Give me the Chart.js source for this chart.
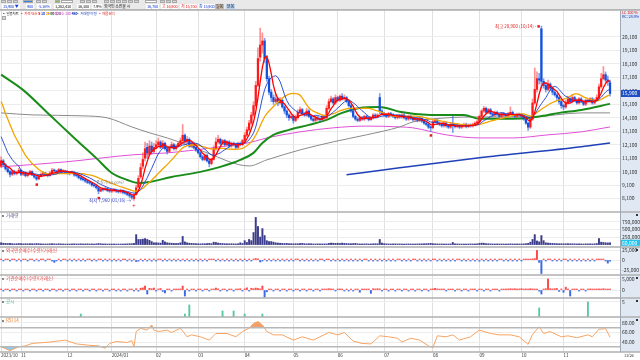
<!DOCTYPE html>
<html lang="ko">
<head>
<meta charset="utf-8">
<script src="https://cdn.jsdelivr.net/npm/chart.js@4.4.1/dist/chart.umd.min.js"></script>
<style>
  html, body { margin: 0; padding: 0; background: #fff; }
  #wrap { position: relative; width: 640px; height: 360px; overflow: hidden;
          font-family: "Noto Sans CJK KR", "Noto Sans", sans-serif; }
  #stockChart { position: absolute; left: 0; top: 0; }
  #toolbar { position: absolute; left: 0; top: 0; width: 640px; height: 10px; background: #e9e9e9;
             border-bottom: 1px solid #b4b4b4; box-sizing: border-box; }
  #toolbar span, #legend span, .tag { position: absolute; white-space: nowrap; font-size: 4px; line-height: 5px; letter-spacing: -0.2px; }
  #legend span { font-size: 3.6px; letter-spacing: -0.2px; }
  .ico { position: absolute; top: 0; width: 5px; height: 3px; background: #d6d6d6; border: 1px solid #a8a8a8; box-sizing: border-box; }
  .fld { background: #fff; padding: 0 1px; }
  #legend span { top: 11px; }
</style>
</head>
<body>
<div id="wrap">
  <canvas id="stockChart" width="640" height="360"></canvas>
  <div id="toolbar">
    <i class="ico" style="left:1px"></i><i class="ico" style="left:7px"></i><i class="ico" style="left:13px"></i>
    <i class="ico" style="left:23px;width:10px;background:#3d7fe0"></i><i class="ico" style="left:36px"></i>
    <i class="ico" style="left:42px"></i><i class="ico" style="left:55px;background:#8bc34a"></i>
    <i class="ico" style="left:61px;width:12px;background:#fff"></i><i class="ico" style="left:80px"></i>
    <i class="ico" style="left:86px"></i><i class="ico" style="left:92px"></i><i class="ico" style="left:104px"></i>
    <i class="ico" style="left:110px"></i><i class="ico" style="left:116px"></i><i class="ico" style="left:122px"></i>
    <i class="ico" style="left:128px"></i><i class="ico" style="left:134px"></i><i class="ico" style="left:145px;width:12px;background:#fff"></i>
    <i class="ico" style="left:160px"></i><i class="ico" style="left:166px"></i><i class="ico" style="left:172px"></i>
    <span class="fld" style="left:2px;top:4px;color:#1a3fd0">15,900 ▼</span>
    <span class="fld" style="left:26px;top:4px;color:#1a3fd0">900</span>
    <span class="fld" style="left:37px;top:4px;color:#1a3fd0">-5.36%</span>
    <span class="fld" style="left:54px;top:4px;color:#222">1,262,430</span>
    <span class="fld" style="left:77px;top:4px;color:#222">36,300</span>
    <span class="fld" style="left:92px;top:4px;color:#222">7.9%</span>
    <span style="left:104px;top:4px;color:#222">외국인 소진율 시</span>
    <span class="fld" style="left:146px;top:4px;color:#1a3fd0">16,700</span>
    <span class="fld" style="left:161px;top:4px;color:#e02020">고 16,900</span>
    <span class="fld" style="left:180px;top:4px;color:#e02020">저 15,700</span>
    <span class="fld" style="left:198px;top:4px;color:#1a3fd0">종 15,900</span>
    <span style="left:215px;top:4px;background:#c9b8a6;color:#222;padding:0 1px">일봉</span>
    <span style="left:226px;top:4px;background:#b7d0ee;color:#222;padding:0 1px">분봉</span>
  </div>
  <div id="legend">
    <span style="left:2px;color:#222">▪ 일봉차트</span>
    <span style="left:20px;color:#e02020">▪ 가격 단순 <b style="color:#f00">5</b> <b style="color:#1a3fd0">10</b> <b style="color:#e8a000">20</b> <b style="color:#1a8c1a">60</b> <b style="color:#888">120</b></span>
    <span style="left:47px;color:#d040c8">▪ 가격 단순 240 <b style="color:#2040b8">480</b></span>
    <span style="left:76px;color:#2040c0">▪ 거래량 이평</span>
    <span style="left:98px;color:#e03030">▪ 매물분석</span>
  </div>
  <i class="ico" style="left:2px;top:16px;width:4px;height:4px"></i>
  <span class="tag" style="left:622px;top:10px;color:#e02020">LC 100 %</span>
  <span class="tag" style="left:622px;top:14px;color:#2040c0">RC: 28.8%</span>
  <span class="tag" style="left:624px;top:353px;color:#333">11/26</span>
</div>
<script>
const FONT = '"Noto Sans CJK KR", "Noto Sans", sans-serif';

// x축: 월 라벨과 월별 거래일 수
const monthNames = ["2023/10", "11", "12", "2024/01", "02", "03", "04", "05", "06", "07", "08", "09", "10", "11"];
const monthDays = [9, 21, 20, 20, 19, 21, 22, 20, 21, 22, 21, 19, 19, 22];
const PAD_DAYS = 4;

// 일봉 시가/고가/저가/종가
const opens = [
  10500, 10900, 10600, 10300, 10100, 9900, 10100, 9950, 10050, 10200,
  9900, 10000, 9800, 9900, 10100, 9850, 9700, 9550, 9750, 9900,
  10000, 9850, 9800, 10000, 10200, 10150, 10050, 10250, 10100, 10150,
  10050, 10000, 9950, 10050, 9850, 9800, 9650, 9550, 9500, 9400,
  9300, 9250, 9100, 9050, 8900, 8650, 8800, 8750, 8850, 8700,
  8650, 8700, 8750, 8650, 8600, 8700, 8550, 8500, 8400, 8300,
  8100, 8400, 8950, 9700, 10500, 11100, 11900, 11400, 12000, 11600,
  11900, 12100, 12300, 11900, 12200, 11800, 11600, 11900, 12100, 11800,
  12000, 12200, 12400, 12800, 12300, 12500, 12000, 12200, 11900, 11700,
  11500, 11200, 11000, 11300, 10900, 10700, 11000, 11800, 12300, 12500,
  12200, 12400, 12100, 12300, 12000, 12200, 12100, 11900, 12200, 12100,
  12400, 12800, 13200, 13700, 14300, 15000, 16500, 18600, 19500, 19800,
  18500, 17000, 16000, 15600, 15300, 15500, 15200, 15400, 14900, 14600,
  14300, 14100, 14200, 13900, 14100, 14500, 14700, 14400, 14300, 14600,
  14200, 14000, 13900, 14100, 14000, 13950, 14200, 14100, 14800, 15300,
  15500, 15200, 15600, 15400, 15700, 15500, 15600, 15300, 15000, 14600,
  14200, 14000, 13900, 14100, 14000, 14200, 14100, 13950, 14100, 14300,
  14200, 15600, 14600, 14400, 14300, 14200, 14400, 14300, 14200, 14100,
  14250, 14150, 14300, 14100, 14000, 14200, 14050, 13950, 14000, 13900,
  14050, 13850, 13700, 13600, 13400, 13350, 13800, 13900, 13700, 13600,
  13500, 13700, 13500, 13400, 13600, 13500, 13450, 13550, 13400, 13500,
  13600, 13450, 13550, 13500, 13600, 13700, 13800, 14200, 14600, 14800,
  14500, 14700, 14400, 14300, 14500, 14350, 14200, 14400, 14300, 14250,
  14400, 14500, 14300, 14200, 14350, 14300, 14200, 14000, 13700, 13400,
  14000, 15200, 16200, 17000, 20700, 16800, 16500, 16200, 16600, 16300,
  16000, 15800, 15600, 15300, 15000, 14900, 15200, 15500, 15300, 15600,
  15400, 15200, 15500, 15300, 15100, 15400, 15300, 15500, 15200, 15400,
  15600, 16400, 17000, 17300, 16900, 16700
];
const highs = [
  11200, 11000, 10700, 10400, 10200, 10200, 10200, 10150, 10350, 10250,
  10100, 10100, 10000, 10200, 10150, 9900, 9750, 9850, 10000, 10100,
  10050, 9950, 10100, 10350, 10300, 10200, 10350, 10300, 10250, 10200,
  10150, 10100, 10150, 10100, 9950, 9850, 9700, 9650, 9600, 9500,
  9400, 9300, 9200, 9100, 8950, 8900, 8900, 8950, 8900, 8800,
  8800, 8850, 8800, 8750, 8800, 8750, 8650, 8550, 8450, 8350,
  8450, 9100, 9800, 10700, 11500, 12300, 12200, 12400, 12300, 12200,
  12400, 12600, 12400, 12400, 12300, 11900, 12000, 12300, 12200, 12100,
  12300, 12600, 13600, 12900, 12700, 12600, 12300, 12300, 12000, 11800,
  11600, 11300, 11400, 11400, 11000, 11100, 12000, 12600, 12800, 12600,
  12500, 12500, 12400, 12400, 12300, 12300, 12200, 12300, 12300, 12500,
  13000, 13400, 13900, 14500, 15300, 16800, 19300, 20750, 20400, 20000,
  18700, 17200, 16200, 15800, 15900, 15600, 15600, 15500, 15000, 14700,
  14400, 14400, 14300, 14300, 14700, 14900, 14800, 14500, 14800, 14700,
  14300, 14100, 14200, 14200, 14100, 14300, 14300, 15000, 15500, 15700,
  15600, 15800, 15700, 15800, 15900, 15800, 15700, 15400, 15100, 14700,
  14300, 14100, 14200, 14200, 14300, 14300, 14200, 14200, 14400, 14400,
  14400, 15900, 14700, 14500, 14400, 14500, 14500, 14400, 14300, 14350,
  14350, 14400, 14400, 14200, 14300, 14300, 14150, 14100, 14100, 14150,
  14100, 13900, 13800, 13700, 13500, 13900, 14000, 14000, 13800, 13700,
  13800, 13800, 13600, 13700, 14200, 13600, 13650, 13600, 13600, 13700,
  13700, 13650, 13650, 13700, 13800, 13900, 14300, 14700, 14950, 14900,
  14800, 14800, 14500, 14600, 14600, 14400, 14500, 14500, 14400, 14500,
  14900, 14600, 14400, 14450, 14450, 14400, 14300, 14100, 13800, 14200,
  15500, 17800, 17500, 17400, 20900, 17000, 16700, 16900, 16700, 16400,
  16100, 15900, 15700, 15400, 15100, 15400, 15700, 15600, 15800, 15700,
  15500, 15600, 15600, 15400, 15500, 15500, 15600, 15600, 15500, 15800,
  16600, 17400, 17900, 17500, 17200, 16900
];
const lows = [
  10400, 10500, 10200, 10000, 9700, 9800, 9850, 9850, 9950, 9800,
  9800, 9700, 9700, 9850, 9800, 9600, 9450, 9500, 9700, 9850,
  9800, 9700, 9750, 9950, 10050, 9950, 10000, 10000, 10050, 9950,
  9900, 9850, 9900, 9750, 9700, 9550, 9450, 9400, 9300, 9200,
  9150, 9000, 8950, 8800, 8450, 8600, 8650, 8700, 8600, 8550,
  8550, 8600, 8550, 8500, 8500, 8450, 8400, 8300, 8150, 8050,
  7960, 8350, 8900, 9600, 10300, 10900, 11100, 11300, 11400, 11500,
  11800, 12000, 11800, 11800, 11700, 11400, 11500, 11800, 11700, 11700,
  11900, 12100, 12300, 12200, 12200, 11900, 11900, 11800, 11600, 11400,
  11100, 10900, 10900, 10800, 10450, 10600, 10950, 11700, 12200, 12100,
  12100, 12000, 12000, 11900, 11900, 12000, 11800, 11800, 12000, 12000,
  12300, 12700, 13100, 13600, 14200, 14900, 16400, 18300, 18900, 18200,
  16800, 15800, 15300, 15100, 15200, 15000, 15100, 14800, 14400, 14100,
  13900, 14000, 13700, 13800, 14000, 14400, 14300, 14200, 14200, 14100,
  13900, 13800, 13800, 13900, 13850, 13900, 14000, 14000, 14700, 15200,
  15100, 15100, 15300, 15300, 15400, 15400, 15200, 14900, 14500, 14100,
  13900, 13800, 13800, 13900, 13900, 14000, 13850, 13900, 14000, 14100,
  14100, 14400, 14300, 14200, 14100, 14100, 14200, 14100, 14000, 14000,
  14050, 14050, 14000, 13900, 13900, 13950, 13850, 13850, 13800, 13800,
  13750, 13600, 13500, 13300, 13100, 13300, 13700, 13600, 13500, 13400,
  13400, 13400, 13300, 13300, 13000, 13350, 13350, 13300, 13300, 13400,
  13350, 13350, 13400, 13400, 13500, 13600, 13700, 14100, 14500, 14400,
  14400, 14300, 14200, 14200, 14250, 14100, 14100, 14200, 14150, 14150,
  14300, 14200, 14100, 14100, 14200, 14100, 13900, 13600, 13150, 13300,
  13900, 15100, 16000, 16600, 16300, 16300, 16000, 16100, 16100, 15800,
  15700, 15400, 15100, 14800, 14700, 14800, 15100, 15200, 15200, 15300,
  15100, 15100, 15200, 15000, 15000, 15200, 15200, 15100, 15100, 15300,
  15500, 16300, 16900, 16700, 16500, 15700
];
const closes = [
  10900, 10600, 10300, 10100, 9900, 10100, 9950, 10050, 10200, 9900,
  10000, 9800, 9900, 10100, 9850, 9700, 9550, 9750, 9900, 10000,
  9850, 9800, 10000, 10200, 10150, 10050, 10250, 10100, 10150, 10050,
  10000, 9950, 10050, 9850, 9800, 9650, 9550, 9500, 9400, 9300,
  9250, 9100, 9050, 8900, 8650, 8800, 8750, 8850, 8700, 8650,
  8700, 8750, 8650, 8600, 8700, 8550, 8500, 8400, 8300, 8200,
  8350, 8900, 9600, 10400, 11000, 11800, 11500, 12000, 11600, 11900,
  12100, 12300, 11900, 12200, 11800, 11600, 11900, 12100, 11800, 12000,
  12200, 12400, 12800, 12300, 12500, 12000, 12200, 11900, 11700, 11500,
  11200, 11000, 11300, 10900, 10700, 11000, 11800, 12300, 12500, 12200,
  12400, 12100, 12300, 12000, 12200, 12100, 11900, 12200, 12100, 12400,
  12800, 13200, 13700, 14300, 15000, 16500, 18500, 19500, 19800, 18500,
  17000, 16000, 15600, 15300, 15500, 15200, 15400, 14900, 14600, 14300,
  14100, 14200, 13900, 14100, 14500, 14700, 14400, 14300, 14600, 14200,
  14000, 13900, 14100, 14000, 13950, 14200, 14100, 14800, 15300, 15500,
  15200, 15600, 15400, 15700, 15500, 15600, 15300, 15000, 14600, 14200,
  14000, 13900, 14100, 14000, 14200, 14100, 13950, 14100, 14300, 14200,
  14300, 14600, 14400, 14300, 14200, 14400, 14300, 14200, 14100, 14250,
  14150, 14300, 14100, 14000, 14200, 14050, 13950, 14000, 13900, 14050,
  13850, 13700, 13600, 13400, 13350, 13800, 13900, 13700, 13600, 13500,
  13700, 13500, 13400, 13600, 13500, 13450, 13550, 13400, 13500, 13600,
  13450, 13550, 13500, 13600, 13700, 13800, 14200, 14600, 14800, 14500,
  14700, 14400, 14300, 14500, 14350, 14200, 14400, 14300, 14250, 14400,
  14500, 14300, 14200, 14350, 14300, 14200, 14000, 13700, 13400, 14000,
  15200, 16200, 17000, 16900, 16800, 16500, 16200, 16600, 16300, 16000,
  15800, 15600, 15300, 15000, 14900, 15200, 15500, 15300, 15600, 15400,
  15200, 15500, 15300, 15100, 15400, 15300, 15500, 15200, 15400, 15600,
  16400, 17000, 17300, 16900, 16800, 15900
];

// 이동평균 앞부분 (차트 이전 데이터 구간, 그림에서 읽은 값)
const ma5Head = [10900, 10750, 10600, 10450];
const ma10Head = [12700, 12300, 11900, 11500, 11250, 11000, 10800, 10650, 10500];
const ma20Head = [15300, 14900, 14400, 14000, 13600, 13200, 12800, 12500, 12200, 11900,
                  11600, 11300, 11100, 10900, 10700, 10550, 10400, 10250, 10150];

// 장기 이동평균: 그림에서 읽은 지점 (거래일 인덱스, 가격)
const ma60Days = [0, 10, 22, 34, 43, 50, 57, 62, 67, 77, 90, 99, 108, 114, 118, 123, 130, 139, 147, 154, 162, 170, 174, 180, 194, 209, 216, 231, 239, 247, 252, 262, 275];
const ma60Vals = [17300, 16150, 14300, 12450, 11100, 10000, 9480, 9260, 9330, 9700, 10080, 10450, 10970, 11490, 12230, 12830, 13200, 13570, 13940, 14460, 14830, 14900, 14830, 14540, 14310, 14310, 14020, 14020, 14090, 14310, 14460, 14680, 15130];
const ma120Days = [0, 14, 37, 48, 59, 67, 75, 84, 93, 112, 120, 135, 150, 165, 180, 186, 201, 216, 239, 262, 275];
const ma120Vals = [14460, 14310, 14240, 14090, 13420, 12980, 12600, 12080, 11490, 10520, 10970, 11710, 12310, 12830, 13420, 13790, 14090, 14160, 14160, 14460, 14460];
const ma240Days = [0, 29, 59, 75, 99, 112, 120, 135, 150, 165, 180, 186, 201, 216, 231, 247, 262, 275];
const ma240Vals = [10450, 10820, 11340, 11490, 11940, 12250, 12600, 13050, 13350, 13480, 13420, 13350, 12830, 12600, 12600, 12830, 13050, 13420];
const ma480Days = [156, 180, 216, 262, 275];
const ma480Vals = [9860, 10380, 11120, 11940, 12230];

// 거래량 (천주)
const volumes = [
  60, 45, 40, 35, 40, 30, 25, 30, 35, 30,
  25, 30, 25, 30, 28, 25, 35, 30, 25, 22,
  20, 22, 25, 30, 25, 20, 28, 22, 20, 18,
  20, 18, 22, 25, 20, 22, 25, 20, 22, 25,
  20, 22, 18, 25, 35, 28, 20, 22, 18, 20,
  18, 20, 16, 18, 20, 18, 22, 25, 28, 30,
  40, 330, 170, 170, 180, 200, 170, 140, 100, 60,
  60, 55, 50, 140, 90, 60, 50, 45, 40, 35,
  40, 60, 270, 90, 60, 45, 40, 35, 30, 28,
  25, 30, 28, 35, 40, 30, 80, 70, 50, 40,
  35, 30, 28, 25, 30, 25, 22, 28, 60, 35,
  130, 70, 170, 130, 400, 900, 600, 250, 530, 300,
  130, 100, 100, 80, 60, 50, 45, 40, 35, 40,
  30, 30, 25, 30, 28, 35, 40, 30, 25, 30,
  28, 22, 20, 25, 22, 20, 25, 22, 40, 50,
  45, 40, 45, 35, 50, 40, 35, 30, 30, 35,
  40, 25, 22, 20, 22, 25, 20, 22, 25, 30,
  28, 170, 50, 30, 25, 22, 20, 22, 25, 20,
  22, 20, 18, 20, 22, 20, 18, 20, 22, 25,
  25, 28, 30, 35, 40, 30, 25, 22, 20, 22,
  20, 18, 20, 22, 70, 25, 22, 20, 18, 20,
  18, 20, 22, 20, 22, 25, 40, 50, 45, 30,
  28, 25, 22, 20, 22, 20, 22, 20, 18, 20,
  25, 22, 20, 22, 20, 22, 25, 30, 40, 80,
  170, 330, 120, 90, 300, 130, 60, 50, 45, 40,
  35, 30, 28, 30, 25, 28, 30, 25, 28, 25,
  22, 25, 22, 20, 25, 22, 25, 22, 25, 35,
  200, 80, 70, 60, 55, 60
];

// 외국인 순매수 (천주)
const foreignNet = [
  1.5, -1, 1.2, 0.8, -0.6, 1, 0.5, -0.8, 1.5, -1,
  0.6, 1.2, -0.5, 0.8, 1.5, -0.7, 0.5, -1.2, 0.9, 1.4,
  -0.6, 0.7, 1.1, -0.9, -6, -2, 0.8, -0.5, 1.2, 0.6,
  -0.7, 0.5, -0.6, 0.9, -0.5, 0.6, -0.8, 0.4, -0.6, 1.5,
  0.5, -0.7, 0.6, -0.5, 1.2, 0.8, -0.6, 0.5, -0.4, 0.6,
  -0.5, 0.7, -0.6, 0.5, -0.4, 0.6, 1.0, -0.5, 0.4, -0.6,
  0.8, -4, -3, 1.5, -1, 2, -1.5, 1, -3, 0.8,
  -0.6, 1.2, 0.7, -0.8, 0.6, -0.5, 0.8, -0.6, 0.5, -0.7,
  0.6, -0.5, 1.8, -1, 0.6, -0.7, 0.5, -0.5, 0.6, -0.4,
  0.5, -0.6, 0.4, -0.5, 0.7, 0.5, 1.2, -0.8, 0.6, -0.5,
  0.5, -0.4, 0.6, -0.5, 0.4, -0.6, 0.5, -0.4, 0.6, -0.5,
  0.8, -0.6, 1.2, -1, 2, 4, 3, -5, -2.5, 1.5,
  -1.2, 0.8, -0.6, 1, -0.5, 0.6, -0.7, 0.8, -0.5, 0.6,
  -0.5, 0.6, -0.4, 0.5, 0.8, -0.6, 0.5, -0.5, 0.6, -0.4,
  0.5, -0.5, 0.6, -0.4, 0.5, 0.7, -0.6, 2.5, 2, -0.8,
  0.6, -0.5, 0.8, -0.6, 0.5, -0.7, 0.6, -0.5, 0.4, -0.6,
  0.5, -0.4, 0.6, -0.5, 0.4, 0.6, -0.5, 0.8, -0.4, 0.5,
  -0.6, 1.5, -0.8, 0.5, -0.4, 0.6, -0.5, 0.4, -0.6, 0.5,
  0.6, -0.5, 0.4, -0.4, 0.5, -0.6, 0.4, 0.5, -0.4, 0.6,
  -0.5, 0.4, -0.6, 0.5, -0.7, 0.8, 0.6, -0.4, 0.5, -0.5,
  0.4, -0.6, 0.5, -0.4, 0.6, -0.5, 0.4, 0.5, -0.6, 0.4,
  -0.5, 0.6, -0.4, 0.5, -0.6, 0.8, -3, 1.5, -1, 0.6,
  -0.5, 0.6, -0.4, 0.5, -0.6, 0.4, 0.5, -0.5, 0.6, -0.4,
  0.8, -0.5, 0.6, -0.4, 0.5, -0.6, 0.5, 1.2, 2, 1.5,
  3, 4, 25, -6, -35, 2, -1.5, 1, 0.8, -0.6,
  0.7, -0.5, 0.6, -0.4, 0.5, 0.6, -0.5, 0.4, -0.6, 0.5,
  -0.4, 0.6, -0.5, 0.4, -0.6, 0.5, -0.4, 0.6, -0.5, 0.8,
  1.5, 2.5, 2, -1.5, -8, -3
];

// 기관 순매수 (천주)
const instNet = [
  0.3, -0.2, 0.2, 0.3, -0.2, 0.2, 0.3, -0.2, 0.2, 0.3,
  -0.2, 0.3, 0.2, -0.3, 0.2, 0.4, -0.2, 0.3, 0.2, -0.2,
  0.3, 0.2, -0.2, 0.3, 0.2, -0.3, 0.2, 0.3, -0.2, 0.2,
  0.3, -0.2, 0.2, 0.3, -0.2, 0.2, 0.3, -0.2, 0.2, 0.3,
  -0.2, 0.2, 0.3, -0.2, 0.4, 0.2, -0.2, 0.3, 0.2, -0.2,
  0.2, 0.3, -0.3, 0.2, -0.2, 0.3, 0.2, -0.4, 0.2, 0.3,
  -0.3, 0.6, -0.5, 0.8, 1.0, 1.8, -1.8, 0.8, 0.6, 0.9,
  -0.4, 0.5, 0.7, -0.6, -1.3, 0.4, 0.3, -0.3, 0.4, 0.2,
  0.3, 0.5, 1.8, -2.7, 0.4, -0.3, 0.3, 0.2, -0.2, 0.3,
  0.2, -0.2, 0.3, 0.2, -0.3, 0.2, 0.4, 0.9, 0.5, -0.3,
  0.2, 0.3, -0.2, 0.2, 0.3, -0.2, 0.2, 0.3, 0.6, -0.2,
  0.5, 1.0, -0.3, 0.8, 0.6, 0.9, 0.7, 0.5, 1.8, -3.2,
  -0.8, 0.4, 0.3, -0.2, 0.3, 0.2, -0.3, 0.2, 0.3, -0.2,
  0.2, 0.3, -0.2, 0.2, 0.3, -0.2, 0.2, 0.2, -0.3, 0.2,
  0.3, -0.2, 0.2, 0.3, -0.2, 0.2, 0.3, 0.4, 0.6, 0.5,
  0.4, -0.3, 0.3, 0.5, 0.4, -0.3, 0.2, -0.2, 0.3, -0.4,
  0.3, 0.2, -1.0, 0.3, 0.2, 0.4, 0.3, -1.5, 0.6, 0.5,
  0.6, 0.5, -0.2, 0.3, 0.2, -0.2, 0.3, 0.2, -0.2, 0.2,
  0.3, -0.2, 0.2, 0.3, -0.2, 0.2, 0.3, -0.2, 0.2, 0.3,
  -0.2, 0.2, 0.3, -0.2, 0.4, 0.5, 0.8, 0.5, 0.4, 0.3,
  0.3, -0.2, 0.2, 0.3, 0.4, -0.2, 0.3, 0.2, -0.2, 0.3,
  0.2, -0.2, 0.3, 0.2, 0.3, -0.3, 0.4, 0.3, -0.2, 0.2,
  0.3, -0.2, 0.2, 0.3, 0.2, -0.2, 0.3, 0.2, 0.3, 0.5,
  0.6, 0.5, 0.6, 0.4, 0.5, 0.6, 0.4, 0.5, 0.3, 0.6,
  0.5, 0.4, 0.3, -0.5, -1.8, 0.4, 0.6, 5.0, 0.6, 0.5,
  0.6, 0.7, -0.6, 0.5, -1.0, 1.3, 0.4, -2.7, 0.3, 0.4,
  0.3, -0.2, 0.4, 0.3, -0.3, 0.4, 0.5, 0.3, 0.4, 0.3,
  0.5, 0.4, 0.6, 0.3, 0.4, 0.3
];

// 공시 건수
const noticeDays = [36, 83, 85, 100, 105, 110, 118, 243, 265];
const noticeCounts = [1, 1, 4, 2, 2, 1, 1, 3, 5];

// RSI: 그림에서 읽은 지점
const rsiDays = [0, 4, 8, 11, 14, 22, 29, 34, 40, 44, 47, 49, 52, 57, 59, 60, 61, 63, 66, 68, 69, 71, 75, 77, 81, 84, 86, 90, 94, 97,
  102, 106, 109, 112, 114, 116, 118, 120, 123, 127, 132, 136, 141, 144, 148, 152, 155, 159, 163, 167, 171, 175, 179, 181, 185, 189,
  193, 195, 197, 201, 204, 207, 212, 215, 216, 221, 225, 230, 234, 238, 240, 243, 245, 248, 253, 256, 260, 265, 267, 270, 273, 275];
const rsiVals = [30, 22, 30, 32, 37, 40, 44, 36, 33, 32, 27, 37, 41, 39, 43, 30, 62, 69, 65, 76, 65, 62, 65, 60, 69, 51, 55, 51, 44, 58,
  58, 51, 62, 69, 79, 83, 76, 62, 55, 55, 44, 51, 44, 51, 60, 55, 60, 42, 37, 36, 53, 51, 48, 40, 48, 44,
  32, 28, 53, 51, 55, 44, 51, 62, 65, 58, 55, 55, 51, 35, 56, 72, 58, 62, 51, 53, 49, 55, 51, 67, 68, 50];

const N = closes.length + PAD_DAYS;

const labels = [];
monthDays.forEach((n, m) => {
  for (let k = 0; k < n; k++) labels.push(k === 0 ? monthNames[m] : "");
});
while (labels.length < N) labels.push("");

function pad(arr) {
  return arr.concat(new Array(N - arr.length).fill(null));
}

function sparse(days, vals) {
  const out = new Array(N).fill(null);
  days.forEach((d, k) => { out[d] = vals[k]; });
  return out;
}

function movingAvg(n, head) {
  return closes.map((c, i) => {
    if (i < n - 1) return head[i];
    let s = 0;
    for (let k = i - n + 1; k <= i; k++) s += closes[k];
    return s / n;
  });
}

const fmt = (v) => Math.round(v).toLocaleString("en-US");

const up = closes.map((c, i) => c >= opens[i]);
const wicks = pad(closes.map((c, i) => [lows[i], highs[i]]));
const bodies = pad(closes.map((c, i) => [opens[i], c]));
const bodyColors = up.map((u) => (u ? "#ff1a1a" : "#1450dc"));
const wickColors = up.map((u) => (u ? "rgba(255,70,70,0.6)" : "rgba(40,100,230,0.6)"));

function maLine(data, color, width, order, smooth) {
  return {
    type: "line", yAxisID: "y", data: data, borderColor: color, borderWidth: width,
    pointRadius: 0, spanGaps: true, tension: smooth ? 0.4 : 0,
    cubicInterpolationMode: smooth ? "monotone" : "default", order: order,
  };
}

function panelAxis(weight, min, max, step, label) {
  return {
    type: "linear", position: "right", stack: "panels", stackWeight: weight,
    min: min, max: max, offset: false,
    border: { display: false },
    grid: { color: "#ececec", drawTicks: false },
    ticks: { stepSize: step, includeBounds: false, autoSkip: false, padding: 2, color: "#333",
             font: { size: 5, family: FONT }, callback: label },
    afterFit(scale) { scale.width = 20; },
  };
}

const panelTitles = [
  { id: "vol", text: "거래량", color: "#50507a" },
  { id: "frn", text: "외국인순매수(수량)(거래소)", color: "#e04040" },
  { id: "inst", text: "기관순매수(수량)(거래소)", color: "#e04040" },
  { id: "ntc", text: "공시", color: "#40b890" },
  { id: "rsi", text: "RSI 14", color: "#f08030" },
];

// 축 배경, 구분선, 패널 제목, 최고/최저 표시
const extrasPlugin = {
  id: "extras",
  beforeDraw(chart) {
    const { ctx, chartArea: a } = chart;
    ctx.save();
    ctx.fillStyle = "#dfe8f3";
    ctx.fillRect(a.right, a.top, chart.width - a.right, a.bottom - a.top);
    ctx.restore();
  },
  afterDatasetsDraw(chart) {
    const { ctx } = chart;
    const xs = chart.scales.x, ys = chart.scales.y;
    ctx.save();
    ctx.font = "4.5px " + FONT;
    ctx.textBaseline = "middle";

    // 최고
    const hi = 244, hx = xs.getPixelForValue(hi), hy = ys.getPixelForValue(highs[hi]);
    ctx.fillStyle = "#e02020";
    ctx.fillRect(hx - 4, hy - 1, 2.5, 2.5);
    ctx.textAlign = "right";
    ctx.fillText("최고 " + fmt(highs[hi]) + " (10/14) -", hx - 5, hy);

    // 최저
    const lo = 60, lx = xs.getPixelForValue(lo), ly = ys.getPixelForValue(lows[lo]);
    ctx.fillStyle = "#3040c8";
    ctx.fillText("최저 " + fmt(lows[lo]) + " (01/16) →", lx - 3, ly);
    ctx.fillStyle = "#e02020";
    ctx.textAlign = "center";
    ctx.font = "6px " + FONT;
    ctx.fillText("+", lx, ly + 5);

    // 저점 표시
    [16, 44, 194].forEach((d) => {
      const x = xs.getPixelForValue(d), y = ys.getPixelForValue(lows[d]);
      ctx.fillRect(x - 1, y + 3, 2.5, 2.5);
    });

    ctx.fillStyle = "#888";
    ctx.textAlign = "left";
    ctx.font = "4px " + FONT;
    ctx.fillText("중심가(50.00%)", xs.getPixelForValue(43), ys.getPixelForValue(9300));
    ctx.restore();
  },
  afterDraw(chart) {
    const { ctx, chartArea: a } = chart;
    ctx.save();
    ctx.strokeStyle = "#b0b0b0";
    ctx.lineWidth = 1.5;
    ctx.beginPath();
    ctx.moveTo(0, a.top); ctx.lineTo(chart.width, a.top);
    ["y", "vol", "frn", "inst", "ntc", "rsi"].forEach((id) => {
      const b = chart.scales[id].bottom;
      ctx.moveTo(0, b); ctx.lineTo(chart.width, b);
    });
    ctx.stroke();

    ctx.lineWidth = 1;
    ctx.strokeStyle = "#a0a8b4";
    ctx.beginPath();
    ctx.moveTo(a.right + 0.5, a.top); ctx.lineTo(a.right + 0.5, a.bottom);
    ctx.stroke();

    // RSI 기준선
    const rs = chart.scales.rsi;
    ctx.strokeStyle = "#b8b8b8";
    ctx.lineWidth = 1.5;
    ctx.beginPath();
    [70, 30].forEach((v) => {
      const y = rs.getPixelForValue(v);
      ctx.moveTo(a.left, y); ctx.lineTo(a.right, y);
    });
    ctx.stroke();

    // 패널 제목
    ctx.font = "4.5px " + FONT;
    ctx.textBaseline = "top";
    ctx.textAlign = "left";
    panelTitles.forEach((p) => {
      const top = chart.scales[p.id].top;
      ctx.fillStyle = "#888";
      ctx.fillRect(2, top + 3, 2, 2);
      ctx.fillStyle = p.color;
      ctx.fillText(p.text, 6, top + 1.5);
      ctx.fillStyle = "#333";
      ctx.fillRect(chart.width - 4, top + 2, 2, 2);
    });

    // 현재가 / 현재 거래량 표시
    const last = closes.length - 1;
    const py = chart.scales.y.getPixelForValue(closes[last]);
    ctx.fillStyle = "#1e4fc4";
    ctx.fillRect(a.right + 1, py - 3.5, chart.width - a.right - 1, 7);
    ctx.fillStyle = "#fff";
    ctx.textBaseline = "middle";
    ctx.font = "5px " + FONT;
    ctx.fillText(fmt(closes[last]), a.right + 2, py);
    const vy = chart.scales.vol.getPixelForValue(volumes[last]);
    ctx.fillStyle = "#22c4ef";
    ctx.fillRect(a.right + 1, vy - 3, chart.width - a.right - 1, 6);
    ctx.fillStyle = "#fff";
    ctx.fillText(fmt(volumes[last] * 1000), a.right + 2, vy);
    ctx.restore();
  },
};

Chart.defaults.font.family = FONT;
Chart.defaults.font.size = 6;

const ctx = document.getElementById("stockChart").getContext("2d");
const stockChart = new Chart(ctx, {
  type: "bar",
  data: {
    labels: labels,
    datasets: [
      { type: "bar", yAxisID: "y", data: wicks, backgroundColor: wickColors, barThickness: 1, grouped: false, order: 20 },
      { type: "bar", yAxisID: "y", data: bodies, backgroundColor: bodyColors, barThickness: 1.6, minBarLength: 1, grouped: false, order: 19 },
      maLine(sparse(ma480Days, ma480Vals), "#2040b8", 1.5, 30, true),
      maLine(sparse(ma240Days, ma240Vals), "#e050d8", 1, 29, true),
      maLine(sparse(ma120Days, ma120Vals), "#8a8a8a", 1, 28, true),
      maLine(sparse(ma60Days, ma60Vals), "#1a8c1a", 2, 27, true),
      maLine(pad(movingAvg(20, ma20Head)), "#f2a400", 1.3, 4, false),
      maLine(pad(movingAvg(10, ma10Head)), "#1a3fd0", 0.9, 3, false),
      maLine(pad(movingAvg(5, ma5Head)), "#ff0000", 1.3, 2, false),
      { type: "bar", yAxisID: "vol", data: pad(volumes), backgroundColor: "#3c3c8c", barThickness: 1.3, grouped: false },
      { type: "bar", yAxisID: "frn", data: pad(foreignNet), barThickness: 1.3, minBarLength: 1, grouped: false,
        backgroundColor: foreignNet.map((v) => (v >= 0 ? "rgba(255,40,40,0.85)" : "rgba(26,79,224,0.85)")) },
      { type: "bar", yAxisID: "inst", data: pad(instNet), barThickness: 1.3, minBarLength: 1, grouped: false,
        backgroundColor: instNet.map((v) => (v >= 0 ? "rgba(255,40,40,0.85)" : "rgba(26,79,224,0.85)")) },
      { type: "bar", yAxisID: "ntc", data: sparse(noticeDays, noticeCounts), backgroundColor: "#55c8a0", barThickness: 1.2, grouped: false },
      { type: "line", yAxisID: "rsi", data: sparse(rsiDays, rsiVals), borderColor: "#f7a463", borderWidth: 1,
        pointRadius: 0, spanGaps: true, tension: 0,
        fill: { target: { value: 70 }, above: "rgba(240,150,90,0.9)", below: "rgba(0,0,0,0)" } },
      { type: "line", yAxisID: "rsi", data: sparse(rsiDays, rsiVals), borderColor: "rgba(0,0,0,0)", borderWidth: 0,
        pointRadius: 0, spanGaps: true, tension: 0,
        fill: { target: { value: 30 }, above: "rgba(0,0,0,0)", below: "rgba(120,200,240,0.9)" } },
    ],
  },
  options: {
    responsive: false,
    animation: false,
    events: [],
    layout: { padding: { top: 10, left: 0, right: 0, bottom: 0 } },
    plugins: { legend: { display: false }, tooltip: { enabled: false } },
    scales: {
      x: {
        type: "category", position: "bottom", offset: true,
        border: { display: false },
        grid: { offset: false, color: "#e0e0e0", drawTicks: false },
        ticks: {
          autoSkip: false, maxRotation: 0, align: "start", padding: 1, color: "#333",
          font: { size: 4.5, family: FONT },
          callback: (v, i) => labels[i] || null,
        },
        afterFit(scale) { scale.height = 8; },
      },
      y: panelAxis(202, 7100, 22100, 1000, (v) => (v > 21000 || v < 8000 ? null : fmt(v))),
      vol: panelAxis(35, -80, 1080, 250, (v) => (v > 0 && v < 1000 ? fmt(v * 1000) : null)),
      frn: panelAxis(28, -39, 34, 25, (v) => fmt(v * 1000)),
      inst: panelAxis(23, -3.6, 6.8, 5, (v) => fmt(v * 1000)),
      ntc: panelAxis(19, 0, 6.3, 5, (v) => (v === 5 ? "5" : null)),
      rsi: panelAxis(35, 19, 92.6, 20, (v) => (v >= 40 && v <= 80 ? v.toFixed(2) : null)),
    },
  },
  plugins: [extrasPlugin],
});
</script>
</body>
</html>
